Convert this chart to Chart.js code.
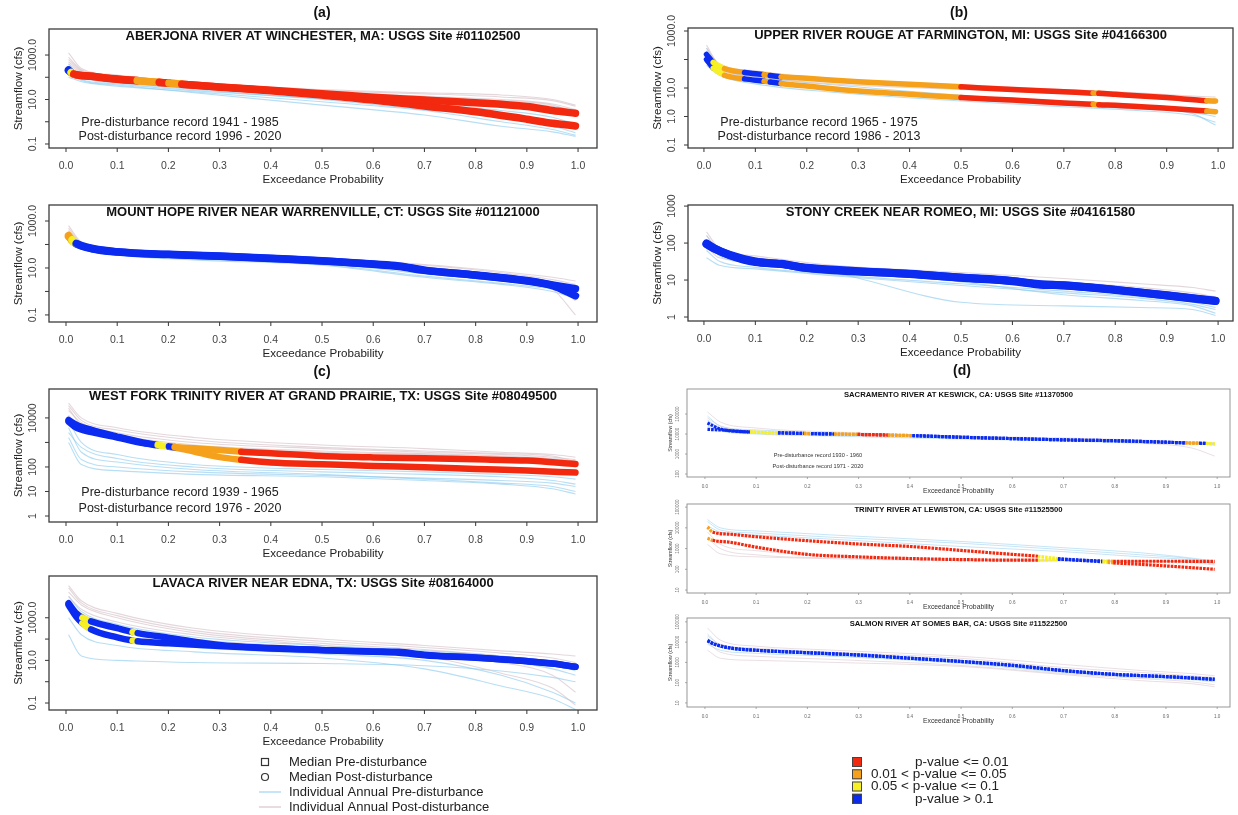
<!DOCTYPE html>
<html><head><meta charset="utf-8">
<script src="https://cdn.jsdelivr.net/npm/chart.js@4.4.1/dist/chart.umd.min.js"></script>
<style>
html,body{margin:0;padding:0;background:#fff;}
#wrap{position:relative;width:1238px;height:815px;overflow:hidden;background:#fff;}
#wrap canvas{position:absolute;left:0;top:0;}
</style></head><body><div id="wrap"></div>
<script>
// ---------------- DATA ----------------
const xTickValues = [0,0.1,0.2,0.3,0.4,0.5,0.6,0.7,0.8,0.9,1.0];
const xTickLabels = ['0.0','0.1','0.2','0.3','0.4','0.5','0.6','0.7','0.8','0.9','1.0'];
const annualX = [0.005,0.03,0.1,0.25,0.5,0.7,0.85,0.95,0.995];

// (a) Aberjona River
const aberjonaX = [0.005,0.01,0.015,0.05,0.1,0.139,0.182,0.201,0.226,0.3,0.4,0.5,0.6,0.7,0.8,0.9,0.95,0.995];
const aberjonaCat = ['B','Y','R','R','R','O','R','O','R','R','R','R','R','R','R','R','R','R'];
const aberjonaPre = [214,166,141,112,83,71,59,55,49,37,26,18.2,12.6,9.5,7.2,4.8,3.2,2.4];
const aberjonaPost = [200,160,138,110,81,70,58,54,48,36,25,15.8,9.5,5.1,2.8,1.3,0.85,0.65];
const aberjonaAnnualPre = [
  [400,100,56,28,10,3.5,1.6,0.63,0.32],[200,79,50,25,11,5.0,2.2,1.0,0.45],
  [100,63,40,22,7.9,3.2,1.0,0.45,0.25],[320,110,63,32,14,6.3,3.2,1.6,0.79],
  [160,71,45,20,5.6,2.0,0.63,0.35,0.22]];
const aberjonaAnnualPost = [
  [1260,250,126,56,28,20,16,10,5.6],[630,200,100,50,22,14,10,6.3,3.5],
  [400,160,89,40,20,11,7.9,5.0,3.2],[790,220,110,45,25,18,13,8.9,5.0],
  [500,180,100,45,20,13,8.9,5.6,2.5]];
const aberjonaYTicks = [0.1,1,10,100,1000];
const aberjonaYLabels = ['0.1','','10.0','','1000.0'];

// (b) Upper River Rouge
const rougeX = [0.005,0.018,0.04,0.079,0.117,0.129,0.15,0.2,0.3,0.4,0.5,0.6,0.7,0.757,0.768,0.8,0.9,0.978,0.995];
const rougeCat = ['B','Y','O','B','O','B','O','O','O','O','R','R','R','O','R','R','R','O','R'];
const rougePre = [151,79,48,35,29.5,27.5,25,21.9,16.6,13.5,11.0,8.9,7.4,6.6,6.5,6.0,4.6,3.6,3.5];
const rougePost = [100,50,28,20.9,17.4,16.2,14.5,11.7,7.8,6.0,4.6,3.8,3.0,2.7,2.6,2.5,1.95,1.55,1.48];
const rougeAnnualPre = [
  [200,40,20,10,4.5,2.8,2.0,1.26,0.5],[100,32,16,8.9,4.0,2.5,1.8,1.4,1.0],
  [250,56,25,13,5.6,3.5,2.5,1.8,1.26],[63,28,14,7.1,3.5,2.2,1.6,1.1,0.63]];
const rougeAnnualPost = [
  [320,63,35,18,11,7.9,5.6,4.5,4.0],[160,50,28,16,10,7.1,5.0,4.0,3.2],
  [250,71,40,20,13,8.9,6.6,5.2,4.8],[126,45,25,14,8.9,6.3,4.5,3.5,2.8]];
const rougeYTicks = [0.1,1,10,100,1000];
const rougeYLabels = ['0.1','1.0','10.0','','1000.0'];

// Mount Hope River
const hopeX = [0.005,0.012,0.02,0.05,0.1,0.2,0.3,0.4,0.5,0.6,0.65,0.7,0.8,0.9,0.95,0.995];
const hopeCat = ['O','Y','B','B','B','B','B','B','B','B','B','B','B','B','B','B'];
const hopePre = [214,158,112,69,49,38,32.4,25.7,20.4,14.8,12.3,8.1,5.0,2.9,1.9,1.32];
const hopePost = [240,141,105,66,48,37,31.6,25.1,20,14.5,11.5,7.9,4.9,2.8,1.78,0.65];
const hopeAnnualPre = [
  [320,89,45,28,16,5.6,2.8,1.6,1.0],[160,71,40,25,14,4.5,2.2,1.26,0.79],
  [250,79,50,32,20,8.9,4.0,2.2,1.6],[126,63,35,22,13,4.0,2.0,1.0,0.5]];
const hopeAnnualPost = [
  [630,126,63,40,25,13,6.3,3.2,2.0],[400,100,56,35,22,11,5.0,2.0,0.4],
  [320,89,50,32,20,10,4.0,1.26,0.1],[500,110,56,35,25,14,7.1,4.0,2.8]];
const hopeYTicks = [0.1,1,10,100,1000];
const hopeYLabels = ['0.1','','10.0','','1000.0'];

// Stony Creek
const stonyX = [0.005,0.02,0.05,0.1,0.15,0.2,0.3,0.4,0.5,0.6,0.65,0.7,0.8,0.9,0.995];
const stonyCat = ['B','B','B','B','B','B','B','B','B','B','B','B','B','B','B'];
const stonyPre = [93,71,48,31.6,26.9,21.4,17.4,14.5,11.7,9.5,7.8,7.2,5.4,3.9,2.75];
const stonyPost = [98,72,47,30.5,27.5,21,17,14.8,11.5,9.3,7.6,7.1,5.5,3.8,2.7];
const stonyAnnualPre = [
  [160,56,35,20,8.9,4.0,2.8,2.0,1.26],[63,32,22,14,7.9,5.0,3.5,2.5,1.8],
  [100,45,28,16,2.5,2.0,1.8,1.6,1.1],[40,25,20,13,7.1,4.5,3.2,2.2,1.6]];
const stonyAnnualPost = [
  [200,71,45,25,16,11,7.9,6.3,5.0],[126,56,40,22,13,8.9,6.3,4.5,3.5],
  [79,40,32,18,10,6.3,4.5,3.2,2.2],[160,63,35,20,14,7.9,5.6,4.0,2.8]];
const stonyYTicks = [1,10,100,1000];
const stonyYLabels = ['1','10','100','1000'];

// (c) West Fork Trinity River
const westforkX = [0.005,0.02,0.05,0.1,0.15,0.179,0.201,0.212,0.25,0.3,0.342,0.4,0.5,0.6,0.7,0.8,0.9,0.995];
const westforkCat = ['B','B','B','B','B','Y','B','O','O','O','R','R','R','R','R','R','R','R'];
const westforkPre = [8300,5250,3240,1740,1000,794,692,646,575,490,417,363,282,245,224,204,182,132];
const westforkPost = [7080,3980,2630,1580,933,759,661,617,427,251,195,151,129,110,98,83,71,59];
const westforkAnnualPre = [
  [4000,400,160,79,50,32,22,16,10],[1600,200,100,63,45,35,28,22,16],
  [7900,1000,320,126,79,63,50,40,32],[1000,126,71,50,40,28,20,13,7.9],
  [2500,630,220,100,63,50,40,28,20]];
const westforkAnnualPost = [
  [40000,10000,4000,1600,790,560,400,320,250],[20000,6300,2500,1000,560,400,320,250,200],
  [32000,7900,3200,1260,630,450,350,280,160],[12600,4000,1600,710,400,320,250,200,126],
  [25000,5000,2000,790,450,350,280,220,180]];
const westforkYTicks = [1,10,100,1000,10000];
const westforkYLabels = ['1','10','100','','10000'];

// Lavaca River
const lavacaX = [0.005,0.02,0.032,0.049,0.1,0.13,0.14,0.2,0.3,0.4,0.5,0.6,0.65,0.7,0.8,0.9,0.95,0.995];
const lavacaCat = ['B','B','Y','B','B','Y','B','B','B','B','B','B','B','B','B','B','B','B'];
const lavacaPre = [4790,1620,1000,676,324,214,191,117,52.5,38,31,26.3,25.1,18.6,13.5,9.3,7.2,5.0];
const lavacaPost = [3980,1120,562,282,120,85,79,63,46.8,36.3,30.2,25.1,22.9,17.4,13.2,9.1,7.1,5.0];
const lavacaAnnualPre = [
  [160,16,10,7.9,7.1,5.6,3.2,1.6,1.0],[2500,400,100,40,20,10,2.0,0.32,0.1],
  [6300,1000,250,79,32,20,10,4.0,2.0],[1000,160,50,25,13,4.0,0.63,0.16,0.05],
  [10000,2000,500,126,50,28,16,7.9,3.2]];
const lavacaAnnualPost = [
  [32000,6300,1600,320,100,50,28,20,16],[16000,4000,1000,200,63,32,16,7.9,4.0],
  [10000,2500,630,160,50,16,2.5,0.5,0.08],[6300,1600,400,100,40,20,7.9,2.0,0.32],
  [25000,5000,1260,250,79,40,22,13,7.9]];
const lavacaYTicks = [0.1,1,10,100,1000];
const lavacaYLabels = ['0.1','','10.0','','1000.0'];

// (d) Sacramento River
const sacX = [0.005,0.015,0.03,0.088,0.1425,0.193,0.207,0.252,0.298,0.357,0.405,0.5,0.6,0.7,0.8,0.9,0.937,0.965,0.978,0.995];
const sacCat = ['B','B','B','Y','B','O','B','O','R','O','B','B','B','B','B','B','O','B','Y','Y'];
const sacPre = [35500,26300,17800,12600,11500,10700,10500,10000,9550,8900,8300,6900,5900,5100,4600,3900,3600,3470,3390,3240];
const sacPost = [17000,16600,16000,12600,11500,10700,10500,10000,9550,8900,8300,6900,5900,5100,4600,3900,3600,3470,3390,3240];
const sacAnnualPre = [
  [50000,20000,12600,10000,7100,5000,4000,3500,3200],[25000,14000,10000,7900,5600,4500,3500,3200,2800],
  [79000,25000,16000,11000,7900,5600,4500,3800,3500]];
const sacAnnualPost = [
  [126000,40000,20000,12600,7900,6300,5000,4000,3500],[63000,25000,14000,10000,7100,5000,3500,2000,790],
  [40000,18000,11000,8900,6300,5200,4200,3500,3200]];
const sacYTicks = [100,1000,10000,100000];
const sacYLabels = ['100','1000','10000','100000'];

// Trinity River at Lewiston
const trinX = [0.005,0.015,0.05,0.1,0.2,0.3,0.4,0.5,0.6,0.65,0.689,0.73,0.776,0.786,0.797,0.85,0.9,0.995];
const trinCat = ['O','R','R','R','R','R','R','R','R','Y','B','B','Y','O','R','R','R','R'];
const trinPre = [10960,6310,4900,3720,2400,1660,1260,813,525,427,331,282,251,248,245,245,245,240];
const trinPost = [3160,2510,2000,1170,525,398,331,295,275,275,302,269,229,214,204,174,145,100];
const trinAnnualPre = [
  [20000,7900,5600,3500,1800,890,500,320,200],[12600,6300,4500,2800,1260,710,400,280,180],
  [25000,10000,7100,4500,2200,1100,630,350,250]];
const trinAnnualPost = [
  [3200,1000,500,350,280,260,250,240,220],[1600,560,400,320,260,250,240,220,200],
  [6300,1600,790,450,320,280,250,220,160]];
const trinYTicks = [10,100,1000,10000,100000];
const trinYLabels = ['10','100','1000','10000','100000'];

// Salmon River
const salmonX = [0.005,0.02,0.05,0.1,0.2,0.3,0.4,0.5,0.6,0.7,0.8,0.9,0.995];
const salmonCat = ['B','B','B','B','B','B','B','B','B','B','B','B','B'];
const salmonPre = [12000,7760,5130,3980,3020,2340,1620,1120,724,398,257,200,148];
const salmonPost = [11500,7600,5100,3950,3000,2300,1600,1100,710,390,255,198,145];
const salmonAnnualPre = [
  [25000,7100,4500,2800,1260,400,220,180,140],[16000,5600,3500,2200,1000,350,200,160,126],
  [7900,4000,2800,2000,890,320,180,140,110]];
const salmonAnnualPost = [
  [50000,12600,6300,4000,2000,790,400,280,220],[4000,1600,1260,1000,630,250,126,89,63],
  [20000,7900,5000,3200,1600,560,320,220,180],[10000,3200,2000,1400,710,280,160,110,79]];
const salmonYTicks = [10,100,1000,10000,100000];
const salmonYLabels = ['10','100','1000','10000','100000'];

const legendLabels = ['Median Pre-disturbance','Median Post-disturbance','Individual Annual Pre-disturbance','Individual Annual Post-disturbance'];
const pLabels = ['p-value <= 0.01','0.01 < p-value <= 0.05','0.05 < p-value <= 0.1','p-value > 0.1'];
const pCats = ['R','O','Y','B'];

// ---------------- STYLE / LAYOUT ----------------
const FONT = "'Liberation Sans', Arial, Helvetica, sans-serif";
const CAT_COL = {R:'#f2290f', O:'#f5a11c', Y:'#f6f025', B:'#0b2bf0'};
const PRE_COL = 'rgba(135,200,236,0.6)';
const POST_COL = 'rgba(212,190,197,0.62)';
const W = 1238, H = 815;
const LX = [-0.0332, 1.037], RX = [-0.031, 1.029], DX = [-0.035, 1.025];

const MAIN = {boxColor:'#3c3c3c', boxWidth:1.3, tickLen:4, tickFont:'10.5px '+FONT, tickColor:'#444',
  xLabOff:18, xTitleOff:32, xTitleFont:'11.6px '+FONT, yLabOff:16, yTitleOff:30, yTitleFont:'11.6px '+FONT,
  titleFont:'bold 13px '+FONT, titleOff:7, annotFont:'12.5px '+FONT, textColor:'#222'};
const SMALL = {boxColor:'#8c8c8c', boxWidth:0.9, tickLen:2, tickFont:'4.6px '+FONT, tickColor:'#666',
  xLabOff:10, xTitleOff:14.5, xTitleFont:'6.8px '+FONT, yLabOff:9, yTitleOff:16, yTitleFont:'5.2px '+FONT,
  titleFont:'bold 7.7px '+FONT, titleOff:5.5, annotFont:'5.6px '+FONT, textColor:'#333'};

const panels = [
 {box:[49,29,597,148], xr:LX, yr:[0.066,14800], title:'ABERJONA RIVER AT WINCHESTER, MA: USGS Site #01102500',
  x:aberjonaX, cat:aberjonaCat, pre:aberjonaPre, post:aberjonaPost, aPre:aberjonaAnnualPre, aPost:aberjonaAnnualPost,
  yTicks:aberjonaYTicks, yLabels:aberjonaYLabels, medW:7.5, style:MAIN,
  annot:[['Pre-disturbance record 1941 - 1985',180,123],['Post-disturbance record 1996 - 2020',180,137]]},
 {box:[688,28,1233,148], xr:RX, yr:[0.0785,1274], title:'UPPER RIVER ROUGE AT FARMINGTON, MI: USGS Site #04166300',
  x:rougeX, cat:rougeCat, pre:rougePre, post:rougePost, aPre:rougeAnnualPre, aPost:rougeAnnualPost,
  yTicks:rougeYTicks, yLabels:rougeYLabels, medW:5.5, style:MAIN,
  annot:[['Pre-disturbance record 1965 - 1975',819,123],['Post-disturbance record 1986 - 2013',819,137]]},
 {box:[49,205,597,322], xr:LX, yr:[0.05,4800], title:'MOUNT HOPE RIVER NEAR WARRENVILLE, CT: USGS Site #01121000',
  x:hopeX, cat:hopeCat, pre:hopePre, post:hopePost, aPre:hopeAnnualPre, aPost:hopeAnnualPost,
  yTicks:hopeYTicks, yLabels:hopeYLabels, medW:7.5, style:MAIN, annot:[]},
 {box:[688,205,1233,321], xr:RX, yr:[0.78,1070], title:'STONY CREEK NEAR ROMEO, MI: USGS Site #04161580',
  x:stonyX, cat:stonyCat, pre:stonyPre, post:stonyPost, aPre:stonyAnnualPre, aPost:stonyAnnualPost,
  yTicks:stonyYTicks, yLabels:stonyYLabels, medW:8, style:MAIN, annot:[]},
 {box:[49,389,597,522], xr:LX, yr:[0.57,151000], title:'WEST FORK TRINITY RIVER AT GRAND PRAIRIE, TX: USGS Site #08049500',
  x:westforkX, cat:westforkCat, pre:westforkPre, post:westforkPost, aPre:westforkAnnualPre, aPost:westforkAnnualPost,
  yTicks:westforkYTicks, yLabels:westforkYLabels, medW:6.5, style:MAIN,
  annot:[['Pre-disturbance record 1939 - 1965',180,493],['Post-disturbance record 1976 - 2020',180,509]]},
 {box:[49,576,597,710], xr:LX, yr:[0.047,91000], title:'LAVACA RIVER NEAR EDNA, TX: USGS Site #08164000',
  x:lavacaX, cat:lavacaCat, pre:lavacaPre, post:lavacaPost, aPre:lavacaAnnualPre, aPost:lavacaAnnualPost,
  yTicks:lavacaYTicks, yLabels:lavacaYLabels, medW:6.5, style:MAIN, annot:[]},
 {box:[687,389,1230,477], xr:DX, yr:[71,1780000], title:'SACRAMENTO RIVER AT KESWICK, CA: USGS Site #11370500',
  x:sacX, cat:sacCat, pre:sacPre, post:sacPost, aPre:sacAnnualPre, aPost:sacAnnualPost,
  yTicks:sacYTicks, yLabels:sacYLabels, medW:3.2, style:SMALL, dash:true,
  annot:[['Pre-disturbance record 1930 - 1960',818,455],['Post-disturbance record 1971 - 2020',818,466]]},
 {box:[687,504,1230,593], xr:DX, yr:[7.2,141000], title:'TRINITY RIVER AT LEWISTON, CA: USGS Site #11525500',
  x:trinX, cat:trinCat, pre:trinPre, post:trinPost, aPre:trinAnnualPre, aPost:trinAnnualPost,
  yTicks:trinYTicks, yLabels:trinYLabels, medW:3.2, style:SMALL, dash:true, annot:[]},
 {box:[687,618,1230,707], xr:DX, yr:[6.3,155000], title:'SALMON RIVER AT SOMES BAR, CA: USGS Site #11522500',
  x:salmonX, cat:salmonCat, pre:salmonPre, post:salmonPost, aPre:salmonAnnualPre, aPost:salmonAnnualPost,
  yTicks:salmonYTicks, yLabels:salmonYLabels, medW:3.2, style:SMALL, dash:true, annot:[]}
];

// ---------------- PLUGINS ----------------
const decor = {
  id:'decor',
  afterDraw(chart, args, opts){
    const p = opts.panel; if(!p) return;
    const S = p.style, ctx = chart.ctx, a = chart.chartArea;
    const xs = chart.scales.x, ys = chart.scales.y;
    ctx.save();
    ctx.strokeStyle = S.boxColor; ctx.lineWidth = S.boxWidth;
    ctx.strokeRect(a.left, a.top, a.right - a.left, a.bottom - a.top);
    ctx.lineWidth = S.boxWidth * 0.8;
    ctx.fillStyle = S.tickColor; ctx.font = S.tickFont;
    ctx.textAlign = 'center'; ctx.textBaseline = 'middle';
    xTickValues.forEach((v, i) => {
      const px = xs.getPixelForValue(v);
      ctx.beginPath(); ctx.moveTo(px, a.bottom); ctx.lineTo(px, a.bottom + S.tickLen); ctx.stroke();
      ctx.fillText(xTickLabels[i], px, a.bottom + S.xLabOff);
    });
    p.yTicks.forEach((v, i) => {
      const py = ys.getPixelForValue(v);
      ctx.beginPath(); ctx.moveTo(a.left, py); ctx.lineTo(a.left - S.tickLen, py); ctx.stroke();
      if (p.yLabels[i]) {
        ctx.save(); ctx.translate(a.left - S.yLabOff, py); ctx.rotate(-Math.PI/2);
        ctx.fillText(p.yLabels[i], 0, 0); ctx.restore();
      }
    });
    ctx.fillStyle = S.textColor;
    ctx.font = S.xTitleFont;
    ctx.fillText('Exceedance Probability', (a.left + a.right)/2, a.bottom + S.xTitleOff);
    ctx.save(); ctx.font = S.yTitleFont;
    ctx.translate(a.left - S.yTitleOff, (a.top + a.bottom)/2); ctx.rotate(-Math.PI/2);
    ctx.fillText('Streamflow (cfs)', 0, 0); ctx.restore();
    ctx.font = S.titleFont; ctx.fillStyle = '#111';
    ctx.fillText(p.title, (a.left + a.right)/2, a.top + S.titleOff);
    ctx.font = S.annotFont; ctx.fillStyle = S.textColor;
    p.annot.forEach(t => ctx.fillText(t[0], t[1], t[2]));
    ctx.restore();
  }
};

const pageDecor = {
  id:'pageDecor',
  afterDraw(chart){
    const ctx = chart.ctx;
    ctx.save();
    ctx.fillStyle = '#111'; ctx.font = 'bold 14px ' + FONT;
    ctx.textAlign = 'center'; ctx.textBaseline = 'middle';
    [['(a)',322,13],['(b)',959,13],['(c)',322,372],['(d)',962,371]].forEach(t => ctx.fillText(t[0], t[1], t[2]));
    // line/marker legend
    const rows = [762,777,792,807];
    ctx.textAlign = 'left'; ctx.font = '13px ' + FONT; ctx.fillStyle = '#222';
    legendLabels.forEach((lab, i) => ctx.fillText(lab, 289, rows[i]));
    ctx.strokeStyle = '#333'; ctx.lineWidth = 1.2;
    ctx.strokeRect(261.5, rows[0] - 3.5, 7, 7);
    ctx.beginPath(); ctx.arc(265, rows[1], 3.5, 0, Math.PI*2); ctx.stroke();
    ctx.lineWidth = 1.3;
    ctx.strokeStyle = 'rgba(130,198,236,0.7)';
    ctx.beginPath(); ctx.moveTo(259, rows[2]); ctx.lineTo(281, rows[2]); ctx.stroke();
    ctx.strokeStyle = 'rgba(205,180,186,0.7)';
    ctx.beginPath(); ctx.moveTo(259, rows[3]); ctx.lineTo(281, rows[3]); ctx.stroke();
    // p-value legend
    const prow = [762,774.3,786.5,798.8];
    const pxs = [915,871,871,915];
    pLabels.forEach((lab, i) => {
      ctx.fillStyle = CAT_COL[pCats[i]];
      ctx.fillRect(852, prow[i] - 5, 10, 10);
      ctx.strokeStyle = '#444'; ctx.lineWidth = 1;
      ctx.strokeRect(852.5, prow[i] - 4.5, 9, 9);
      ctx.fillStyle = '#222'; ctx.font = '13.5px ' + FONT;
      ctx.fillText(lab, pxs[i], prow[i]);
    });
    ctx.restore();
  }
};

// ---------------- BUILD CHARTS ----------------
const wrap = document.getElementById('wrap');
panels.forEach((p, idx) => {
  const c = document.createElement('canvas');
  c.width = W; c.height = H; c.style.width = W + 'px'; c.style.height = H + 'px';
  wrap.appendChild(c);
  const datasets = [];
  const aw = p.style === SMALL ? 0.8 : 1.1;
  p.aPre.forEach(arr => datasets.push({
    data: annualX.map((x, i) => ({x, y: arr[i]})), borderColor: PRE_COL, borderWidth: aw,
    pointRadius: 0, cubicInterpolationMode: 'monotone', order: 4}));
  p.aPost.forEach(arr => datasets.push({
    data: annualX.map((x, i) => ({x, y: arr[i]})), borderColor: POST_COL, borderWidth: aw,
    pointRadius: 0, cubicInterpolationMode: 'monotone', order: 3}));
  [p.pre, p.post].forEach((arr, k) => datasets.push({
    data: p.x.map((x, i) => ({x, y: arr[i]})),
    borderColor: CAT_COL[p.cat[0]], borderWidth: p.medW, pointRadius: 0,
    borderCapStyle: p.dash ? 'butt' : 'round', borderJoinStyle: 'round',
    borderDash: p.dash ? [2.6, 1.0] : [],
    cubicInterpolationMode: 'monotone', order: k,
    segment: { borderColor: ctx => CAT_COL[p.cat[ctx.p0DataIndex]] }
  }));
  new Chart(c, {
    type: 'line',
    data: { datasets },
    options: {
      responsive: false, animation: false, events: [], devicePixelRatio: 1,
      layout: { padding: { left: p.box[0], top: p.box[1], right: W - p.box[2], bottom: H - p.box[3] } },
      plugins: { legend: { display: false }, tooltip: { enabled: false }, decor: { panel: p } },
      scales: {
        x: { type: 'linear', min: p.xr[0], max: p.xr[1], display: false },
        y: { type: 'logarithmic', min: p.yr[0], max: p.yr[1], display: false }
      }
    },
    plugins: idx === 0 ? [decor, pageDecor] : [decor]
  });
});
</script>
</body></html>
